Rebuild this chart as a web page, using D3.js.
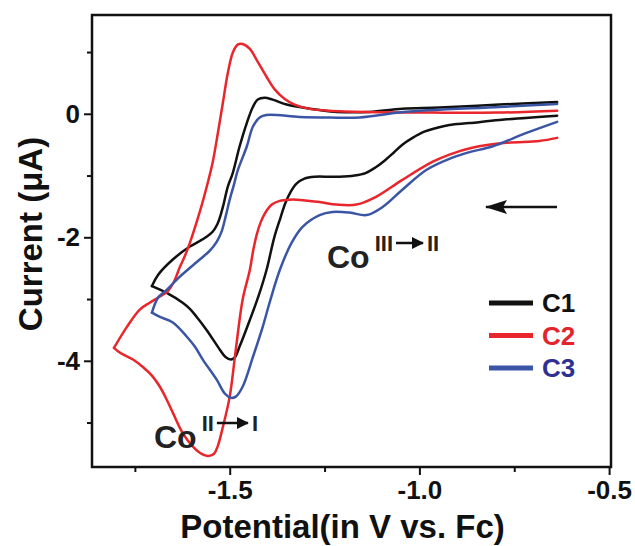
<!DOCTYPE html>
<html>
<head>
<meta charset="utf-8">
<script src="https://cdn.jsdelivr.net/npm/d3@7"></script>
<style>
  html, body { margin: 0; padding: 0; background: #fff; }
  svg { display: block; }
  text { font-family: "Liberation Sans", Arial, Helvetica, sans-serif; font-weight: bold; }
</style>
</head>
<body>
<svg id="chart" width="635" height="546"></svg>
<script>
// Cyclic voltammograms of C1–C2–C3: [potential (V vs. Fc), current (µA)]
// Each scan is split at its switching potential: cathodic sweep, then anodic return.
const c1Cathodic = [
  [-0.637, -0.03], [-0.789, -0.10], [-0.868, -0.15], [-0.921, -0.18], [-0.955, -0.23],
  [-0.987, -0.29], [-1.018, -0.39], [-1.045, -0.50], [-1.068, -0.63], [-1.092, -0.76],
  [-1.116, -0.87], [-1.142, -0.96], [-1.171, -1.00], [-1.211, -1.02], [-1.237, -1.02],
  [-1.276, -1.02], [-1.303, -1.05], [-1.324, -1.13], [-1.339, -1.26], [-1.353, -1.44],
  [-1.366, -1.68], [-1.382, -1.99], [-1.403, -2.53], [-1.424, -2.95], [-1.447, -3.34],
  [-1.474, -3.77], [-1.487, -3.95], [-1.497, -3.98], [-1.511, -3.94], [-1.526, -3.82],
  [-1.561, -3.50], [-1.587, -3.29], [-1.605, -3.16], [-1.624, -3.06], [-1.666, -2.90],
  [-1.705, -2.79]
];
const c1Anodic = [
  [-1.705, -2.79], [-1.689, -2.61], [-1.650, -2.36], [-1.605, -2.15], [-1.579, -2.06],
  [-1.561, -1.99], [-1.545, -1.91], [-1.532, -1.78], [-1.524, -1.64], [-1.516, -1.46],
  [-1.505, -1.18], [-1.492, -0.96], [-1.474, -0.53], [-1.455, -0.15], [-1.439, 0.11],
  [-1.426, 0.23], [-1.408, 0.26], [-1.387, 0.23], [-1.350, 0.15], [-1.316, 0.11],
  [-1.263, 0.06], [-1.218, 0.03], [-1.132, 0.03], [-1.045, 0.08], [-0.947, 0.10],
  [-0.789, 0.15], [-0.637, 0.19]
];
const c2Cathodic = [
  [-0.637, -0.39], [-0.684, -0.44], [-0.771, -0.47], [-0.861, -0.55], [-0.921, -0.66],
  [-0.966, -0.78], [-1.045, -1.07], [-1.113, -1.34], [-1.166, -1.47], [-1.218, -1.47],
  [-1.263, -1.43], [-1.324, -1.39], [-1.342, -1.39], [-1.368, -1.41], [-1.389, -1.47],
  [-1.405, -1.59], [-1.418, -1.75], [-1.429, -1.96], [-1.438, -2.21], [-1.447, -2.53],
  [-1.466, -3.01], [-1.484, -3.82], [-1.500, -4.58], [-1.518, -5.07], [-1.532, -5.39],
  [-1.542, -5.51], [-1.558, -5.54], [-1.579, -5.49], [-1.597, -5.39], [-1.624, -5.17],
  [-1.650, -4.84], [-1.666, -4.63], [-1.684, -4.42], [-1.705, -4.24], [-1.729, -4.10],
  [-1.755, -3.98], [-1.789, -3.87], [-1.805, -3.79]
];
const c2Anodic = [
  [-1.805, -3.79], [-1.771, -3.45], [-1.737, -3.17], [-1.711, -3.06], [-1.684, -2.96],
  [-1.663, -2.87], [-1.647, -2.72], [-1.632, -2.49], [-1.618, -2.30], [-1.605, -2.09],
  [-1.579, -1.59], [-1.558, -1.12], [-1.545, -0.79], [-1.532, -0.34], [-1.518, 0.18],
  [-1.505, 0.66], [-1.492, 0.99], [-1.479, 1.12], [-1.466, 1.13], [-1.447, 1.05],
  [-1.426, 0.84], [-1.403, 0.60], [-1.382, 0.40], [-1.355, 0.24], [-1.329, 0.15],
  [-1.289, 0.08], [-1.237, 0.05], [-1.139, 0.03], [-0.966, 0.02], [-0.789, 0.02],
  [-0.637, 0.05]
];
const c3Cathodic = [
  [-0.637, -0.13], [-0.718, -0.31], [-0.808, -0.53], [-0.868, -0.62], [-0.913, -0.71],
  [-0.982, -0.91], [-1.045, -1.23], [-1.097, -1.51], [-1.139, -1.64], [-1.184, -1.60],
  [-1.229, -1.59], [-1.263, -1.64], [-1.308, -1.83], [-1.337, -2.09], [-1.368, -2.53],
  [-1.395, -3.06], [-1.413, -3.45], [-1.439, -3.94], [-1.466, -4.42], [-1.484, -4.58],
  [-1.497, -4.60], [-1.513, -4.53], [-1.534, -4.31], [-1.571, -3.98], [-1.592, -3.77],
  [-1.613, -3.61], [-1.650, -3.38], [-1.684, -3.29], [-1.705, -3.22]
];
const c3Anodic = [
  [-1.705, -3.22], [-1.689, -2.98], [-1.666, -2.85], [-1.632, -2.64], [-1.579, -2.36],
  [-1.553, -2.22], [-1.534, -2.07], [-1.521, -1.90], [-1.511, -1.67], [-1.500, -1.39],
  [-1.489, -1.15], [-1.479, -0.92], [-1.455, -0.53], [-1.439, -0.21], [-1.421, -0.06],
  [-1.403, -0.02], [-1.316, -0.05], [-1.237, -0.06], [-1.158, -0.06], [-1.053, 0.02],
  [-0.966, 0.06], [-0.789, 0.11], [-0.637, 0.16]
];

const seriesNames = ["C1", "C2", "C3"];
const seriesColors = ["#111111", "#e8262b", "#3b55a5"];
const legendTextColors = ["#111111", "#e3242b", "#2e3192"];

const xMajorTicks = [-1.5, -1.0, -0.5];
const xMajorLabels = ["-1.5", "-1.0", "-0.5"];
const xMinorTicks = [-1.75, -1.25, -0.75];
const yMajorTicks = [0, -2, -4];
const yMajorLabels = ["0", "-2", "-4"];
const yMinorTicks = [1, -1, -3, -5];

const xTitle = "Potential(in V vs. Fc)";
const yTitle = "Current (\u03bcA)";

// ---- layout ----
const plot = { left: 92, right: 611, top: 15, bottom: 467 };
const svg = d3.select("#chart");

const x = d3.scaleLinear().domain([-1.863, -0.495]).range([plot.left, plot.right]);
const y = d3.scaleLinear().domain([-5.72, 1.60]).range([plot.bottom, plot.top]);

// ---- axes ----
function styleAxis(g) {
  g.select(".domain").remove();
  g.selectAll(".tick line").attr("stroke", "#111").attr("stroke-width", 2);
  g.selectAll(".tick text").attr("fill", "#111").style("font-size", "26px").style("font-weight", "bold")
    .style("font-family", '"Liberation Sans", Arial, sans-serif');
}

svg.append("g")
  .attr("transform", `translate(0,${plot.bottom})`)
  .call(d3.axisBottom(x).tickValues(xMinorTicks).tickSize(5).tickFormat(""))
  .call(styleAxis);
svg.append("g")
  .attr("transform", `translate(0,${plot.bottom})`)
  .call(d3.axisBottom(x).tickValues(xMajorTicks).tickSize(8).tickPadding(6)
    .tickFormat((d, i) => xMajorLabels[i]))
  .call(styleAxis);

svg.append("g")
  .attr("transform", `translate(${plot.left},0)`)
  .call(d3.axisLeft(y).tickValues(yMinorTicks).tickSize(5).tickFormat(""))
  .call(styleAxis);
svg.append("g")
  .attr("transform", `translate(${plot.left},0)`)
  .call(d3.axisLeft(y).tickValues(yMajorTicks).tickSize(8).tickPadding(4)
    .tickFormat((d, i) => yMajorLabels[i]))
  .call(styleAxis);

// ---- curves ----
const line = d3.line()
  .x(d => x(d[0]))
  .y(d => y(d[1]))
  .curve(d3.curveCatmullRom.alpha(0.5));

const scans = [
  [c1Cathodic, c1Anodic],
  [c2Cathodic, c2Anodic],
  [c3Cathodic, c3Anodic]
];

const curves = svg.append("g");
scans.forEach((pair, i) => {
  pair.forEach(branch => {
    curves.append("path")
      .attr("d", line(branch))
      .attr("fill", "none")
      .attr("stroke", seriesColors[i])
      .attr("stroke-width", 2.5)
      .attr("stroke-linejoin", "round")
      .attr("stroke-linecap", "round");
  });
});

// ---- frame ----
svg.append("rect")
  .attr("x", plot.left).attr("y", plot.top)
  .attr("width", plot.right - plot.left).attr("height", plot.bottom - plot.top)
  .attr("fill", "none").attr("stroke", "#111").attr("stroke-width", 2.5);

// ---- axis titles ----
svg.append("text")
  .attr("x", (plot.left + plot.right) / 2 - 9).attr("y", 538)
  .attr("text-anchor", "middle")
  .style("font-size", "33px").attr("fill", "#111")
  .text(xTitle);

svg.append("text")
  .attr("transform", `translate(42,${(plot.top + plot.bottom) / 2 - 7}) rotate(-90)`)
  .attr("text-anchor", "middle")
  .style("font-size", "33px").attr("fill", "#111")
  .text(yTitle);

// ---- legend ----
const legend = svg.append("g");
seriesNames.forEach((name, i) => {
  const ly = 303 + i * 32.5;
  legend.append("line")
    .attr("x1", 489).attr("x2", 533).attr("y1", ly).attr("y2", ly)
    .attr("stroke", seriesColors[i]).attr("stroke-width", 5);
  legend.append("text")
    .attr("x", 542).attr("y", ly).attr("dy", "0.36em")
    .style("font-size", "26px").attr("fill", legendTextColors[i])
    .text(name);
});

// ---- annotations ----
const arrowDefs = svg.append("defs");
arrowDefs.append("marker")
  .attr("id", "head").attr("viewBox", "0 0 12 12")
  .attr("refX", 11).attr("refY", 6)
  .attr("markerWidth", 12).attr("markerHeight", 12)
  .attr("markerUnits", "userSpaceOnUse")
  .attr("orient", "auto")
  .append("path").attr("d", "M0,0 L12,6 L0,12 Z").attr("fill", "#111");

function redoxLabel(x0, baseline, from, to, arrowLen) {
  const g = svg.append("g").attr("fill", "#222");
  const co = g.append("text").attr("x", x0).attr("y", baseline)
    .style("font-size", "32px").text("Co");
  const coW = co.node().getComputedTextLength();
  const supBase = baseline - 17;
  const s1 = g.append("text").attr("x", x0 + coW + 5).attr("y", supBase)
    .style("font-size", "22px").text(from);
  const s1W = s1.node().getComputedTextLength();
  const ax0 = x0 + coW + 5 + s1W + 3;
  const ay = supBase - 8;
  g.append("line")
    .attr("x1", ax0).attr("x2", ax0 + arrowLen).attr("y1", ay).attr("y2", ay)
    .attr("stroke", "#111").attr("stroke-width", 2.5)
    .attr("marker-end", "url(#head)");
  g.append("text").attr("x", ax0 + arrowLen + 4).attr("y", supBase)
    .style("font-size", "22px").text(to);
}
redoxLabel(154, 448, "II", "I", 31);
redoxLabel(327, 268, "III", "II", 27);

// scan direction arrow
svg.append("defs").append("marker")
  .attr("id", "scanHead").attr("viewBox", "0 0 22 14")
  .attr("refX", 21).attr("refY", 7)
  .attr("markerWidth", 22).attr("markerHeight", 14)
  .attr("markerUnits", "userSpaceOnUse")
  .attr("orient", "auto")
  .append("path").attr("d", "M0,0 L22,7 L0,14 L4,7 Z").attr("fill", "#111");
svg.append("line")
  .attr("x1", 557).attr("x2", 486).attr("y1", 207).attr("y2", 207)
  .attr("stroke", "#111").attr("stroke-width", 2.5)
  .attr("marker-end", "url(#scanHead)");
</script>
</body>
</html>
